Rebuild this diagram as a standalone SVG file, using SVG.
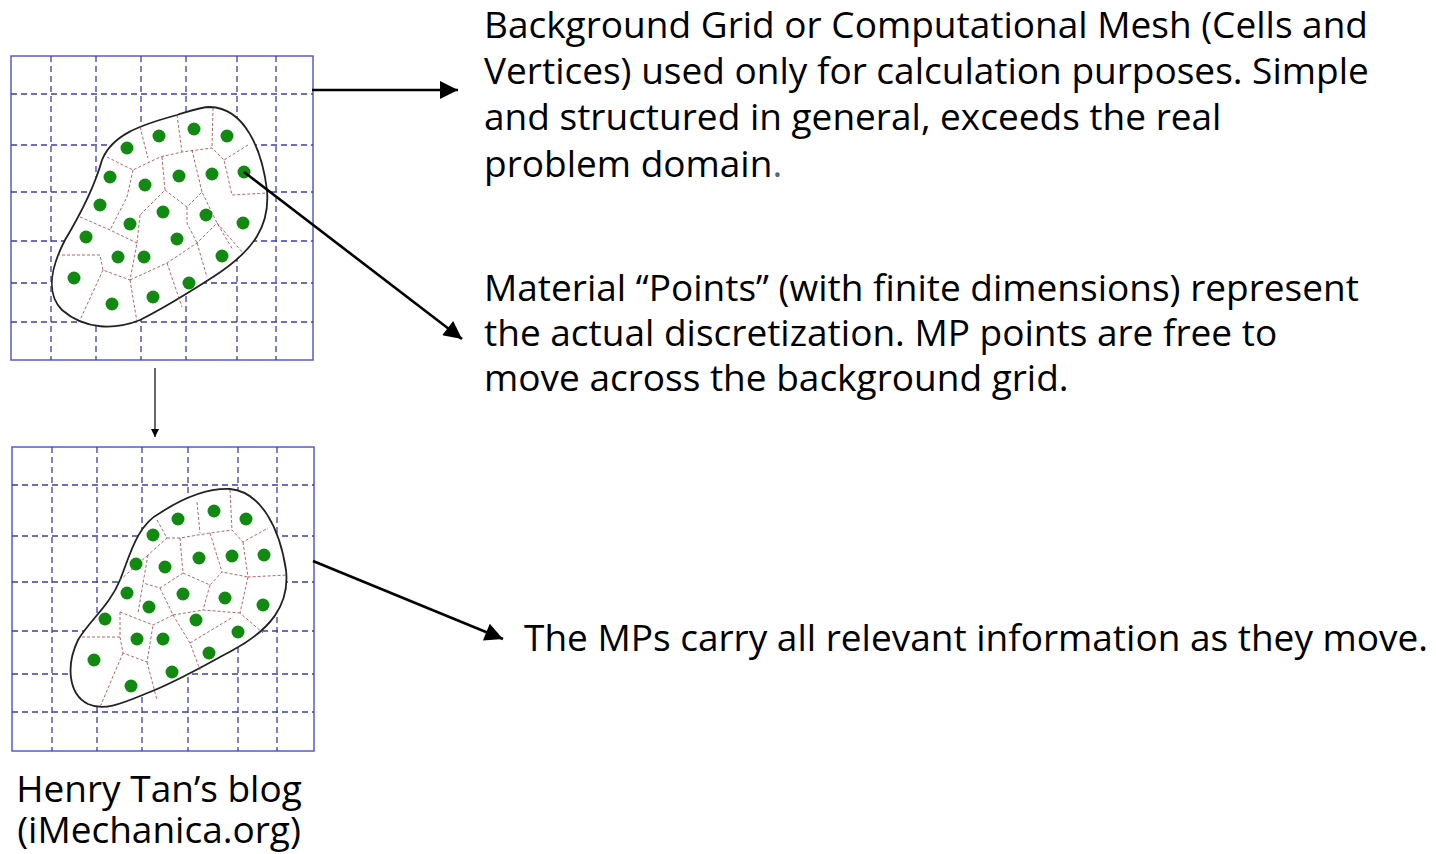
<svg xmlns="http://www.w3.org/2000/svg" width="1436" height="854" viewBox="0 0 1436 854">
  <style>
    .frame { fill: #ffffff; stroke: #5a5ad0; stroke-width: 1.5; }
    .grid { stroke: #3c3cb0; stroke-width: 1.3; stroke-dasharray: 6 4; fill: none; }
    .blob { fill: #ffffff; stroke: #222222; stroke-width: 1.8; }
    .cell { stroke: #a04040; stroke-width: 0.8; stroke-dasharray: 3 2; fill: none; }
    .mp { fill: #128a12; }
    .label { font-family: "Open Sans", "Noto Sans", sans-serif; font-size: 37px; fill: #000000; }
    .thick { stroke: #000000; stroke-width: 2.6; fill: none; }
    .thin { stroke: #000000; stroke-width: 1.2; fill: none; }
  </style>
  <defs>
    <marker id="headBig" viewBox="0 0 10 10" refX="10" refY="5" markerWidth="26" markerHeight="18" markerUnits="userSpaceOnUse" orient="auto">
      <path d="M0,0 L10,5 L0,10 Z" fill="#000"/>
    </marker>
    <marker id="headSmall" viewBox="0 0 10 10" refX="10" refY="5" markerWidth="16" markerHeight="8" markerUnits="userSpaceOnUse" orient="auto">
      <path d="M0,0 L10,5 L0,10 Z" fill="#000"/>
    </marker>
  </defs>

  <!-- initial configuration: background grid with material points -->
  <g id="grid-initial">
    <rect class="frame" x="11" y="56" width="302" height="304"/>
    <path class="grid" d="M51,56V360 M96,56V360 M141,56V360 M186,56V360 M237,56V360 M276,56V360
                          M11,94H313 M11,145H313 M11,192H313 M11,241H313 M11,283H313 M11,322H313"/>
    <path class="blob" d="M210,107 C245,108 262,150 267,190 C270,225 255,250 213,277 C185,295 160,310 140,320 C115,330 85,330 62,310 C45,293 52,265 65,240 C80,215 95,185 102,160 C112,135 140,125 177,115 C190,111 200,107 210,107 Z"/>
    <path class="cell" d="M140,127 L148,158 M177,115 L182,152 M213,108 L212,148 M248,145 L224,160
      M107,157 L133,170 L160,157 L182,152 L212,148 L224,160 L232,195 L267,193
      M192,150 L202,192 M162,157 L165,190 L140,215 M165,190 L187,207 L202,192 L217,223 L233,250
      M133,170 L127,197 L110,230 M80,217 L110,230 L137,243 M140,215 L137,243 L130,280
      M57,255 L100,255 L103,270 L130,280 M103,270 L80,320 M130,280 L137,322
      M130,280 L167,263 L197,243 L217,223 M167,263 L182,307 M197,243 L207,277 M217,223 L243,253
      M187,207 L187,223 L197,243"/>
    <g>
      <circle class="mp" cx="127" cy="148" r="6.5"/>
      <circle class="mp" cx="159" cy="136" r="6.5"/>
      <circle class="mp" cx="194" cy="129" r="6.5"/>
      <circle class="mp" cx="227" cy="136" r="6.5"/>
      <circle class="mp" cx="110" cy="177" r="6.5"/>
      <circle class="mp" cx="145" cy="185" r="6.5"/>
      <circle class="mp" cx="179" cy="176" r="6.5"/>
      <circle class="mp" cx="212" cy="174" r="6.5"/>
      <circle class="mp" cx="244" cy="172" r="6.5"/>
      <circle class="mp" cx="100" cy="205" r="6.5"/>
      <circle class="mp" cx="130" cy="224" r="6.5"/>
      <circle class="mp" cx="163" cy="212" r="6.5"/>
      <circle class="mp" cx="206" cy="215" r="6.5"/>
      <circle class="mp" cx="243" cy="223" r="6.5"/>
      <circle class="mp" cx="86" cy="237" r="6.5"/>
      <circle class="mp" cx="177" cy="239" r="6.5"/>
      <circle class="mp" cx="118" cy="257" r="6.5"/>
      <circle class="mp" cx="144" cy="257" r="6.5"/>
      <circle class="mp" cx="222" cy="256" r="6.5"/>
      <circle class="mp" cx="74" cy="278" r="6.5"/>
      <circle class="mp" cx="189" cy="283" r="6.5"/>
      <circle class="mp" cx="112" cy="304" r="6.5"/>
      <circle class="mp" cx="153" cy="297" r="6.5"/>
    </g>
  </g>

  <!-- deformed configuration: same grid, points moved -->
  <g id="grid-deformed">
    <rect class="frame" x="12" y="447" width="302" height="304"/>
    <path class="grid" d="M52,447V751 M97,447V751 M142,447V751 M188,447V751 M238,447V751 M277,447V751
                          M12,485H314 M12,536H314 M12,582H314 M12,631H314 M12,674H314 M12,712H314"/>
    <path class="blob" d="M230,489 C262,492 280,530 286,570 C290,605 270,630 233,650 C205,665 180,680 150,692 C125,702 105,712 88,704 C68,694 66,665 78,640 C90,620 110,605 120,580 C130,555 137,525 160,513 C180,500 205,488 230,489 Z"/>
    <path class="cell" d="M197,502 L200,533 M230,490 L232,530 M157,520 L167,538 L148,555
      M167,538 L180,538 L210,533 L232,530 L243,542 L268,528
      M180,538 L183,573 M210,533 L222,572 M243,542 L248,577 L287,575
      M148,555 L120,580 M148,555 L143,583 L138,613 M183,573 L160,588 L143,583
      M183,573 L210,585 L222,572 L248,577 M160,588 L173,615 M210,585 L203,610
      M248,577 L240,613 L263,633 M173,615 L153,625 L120,612 M173,615 L203,610 L240,613
      M120,637 L80,637 M120,612 L120,637 L123,653 L147,662 L153,625 M147,662 L157,700
      M123,653 L100,707 M173,615 L190,643 L200,670 M190,643 L233,617"/>
    <g>
      <circle class="mp" cx="178" cy="519" r="6.5"/>
      <circle class="mp" cx="214" cy="511" r="6.5"/>
      <circle class="mp" cx="246" cy="519" r="6.5"/>
      <circle class="mp" cx="153" cy="535" r="6.5"/>
      <circle class="mp" cx="199" cy="558" r="6.5"/>
      <circle class="mp" cx="232" cy="556" r="6.5"/>
      <circle class="mp" cx="264" cy="555" r="6.5"/>
      <circle class="mp" cx="136" cy="564" r="6.5"/>
      <circle class="mp" cx="165" cy="567" r="6.5"/>
      <circle class="mp" cx="127" cy="593" r="6.5"/>
      <circle class="mp" cx="183" cy="594" r="6.5"/>
      <circle class="mp" cx="225" cy="598" r="6.5"/>
      <circle class="mp" cx="263" cy="605" r="6.5"/>
      <circle class="mp" cx="149" cy="607" r="6.5"/>
      <circle class="mp" cx="105" cy="619" r="6.5"/>
      <circle class="mp" cx="196" cy="620" r="6.5"/>
      <circle class="mp" cx="238" cy="632" r="6.5"/>
      <circle class="mp" cx="137" cy="639" r="6.5"/>
      <circle class="mp" cx="163" cy="639" r="6.5"/>
      <circle class="mp" cx="209" cy="653" r="6.5"/>
      <circle class="mp" cx="94" cy="660" r="6.5"/>
      <circle class="mp" cx="172" cy="672" r="6.5"/>
      <circle class="mp" cx="131" cy="686" r="6.5"/>
    </g>
  </g>

  <!-- connectors -->
  <g id="connectors">
    <line class="thick" x1="312" y1="90" x2="458" y2="90" marker-end="url(#headBig)"/>
    <line class="thick" x1="244" y1="172" x2="462" y2="339" marker-end="url(#headBig)"/>
    <line class="thin" x1="155" y1="368" x2="155" y2="437" marker-end="url(#headSmall)"/>
    <line class="thick" x1="313" y1="561" x2="503" y2="639" marker-end="url(#headBig)"/>
  </g>

  <g id="note-grid">
    <text class="label" x="484" y="38">Background Grid or Computational Mesh (Cells and</text>
    <text class="label" x="484" y="84">Vertices) used only for calculation purposes. Simple</text>
    <text class="label" x="484" y="130">and structured in general, exceeds the real</text>
    <text class="label" x="484" y="177">problem domain<tspan fill="#4a6a8a">.</tspan></text>
  </g>

  <g id="note-points">
    <text class="label" x="484" y="301">Material “Points” (with finite dimensions) represent</text>
    <text class="label" x="484" y="346">the actual discretization. MP points are free to</text>
    <text class="label" x="484" y="391">move across the background grid.</text>
  </g>

  <g id="note-carry">
    <text class="label" x="524" y="651" textLength="904" lengthAdjust="spacingAndGlyphs">The MPs carry all relevant information as they move.</text>
  </g>

  <g id="caption">
    <text class="label" x="159" y="802" text-anchor="middle">Henry Tan’s blog</text>
    <text class="label" x="159" y="843" text-anchor="middle">(iMechanica.org)</text>
  </g>
</svg>
